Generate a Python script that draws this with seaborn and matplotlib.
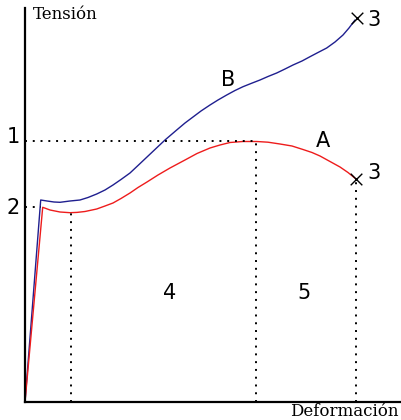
import matplotlib
matplotlib.use("Agg")
import matplotlib.pyplot as plt
import seaborn as sns
import pandas as pd

sns.set_style("white")

# Curve B (blue) (deformation, tension)
b_x = [0, 15.7, 22, 29, 35, 45, 55, 63, 71.7, 80, 88, 96, 105, 113, 122, 131, 140, 151.7,
       160, 168, 176, 185, 193, 201.7, 210, 218, 226, 235, 243, 251.7, 260, 268, 277,
       285, 293, 301.7, 310, 318, 324, 330]
b_y = [0, 202, 201, 200, 199.7, 201, 202, 204.5, 208, 212, 217, 222.5, 229, 236.5, 245, 253.5, 262, 272,
       279, 285, 291, 297, 302, 307, 311.5, 315.3, 318.5, 322, 325.5, 329, 333, 337, 341,
       345.3, 349.5, 354, 360, 367, 374, 382]
# Curve A (red)
a_x = [0, 17.7, 25, 35, 45, 52, 60, 71.7, 80, 88, 96, 105, 113, 122, 133, 145, 160, 172, 185,
       195, 205, 218, 231.7, 243, 255, 267, 278, 287, 295, 305, 315, 323, 331]
a_y = [0, 194.7, 192, 190, 189.3, 189.6, 190.5, 193, 196, 199, 203.5, 209, 214.5, 220, 227, 234, 242, 248.5, 254,
       257, 259.5, 260.5, 260.5, 259.8, 258, 256, 252.5, 249.5, 246, 240.5, 235, 229.5, 223]

guide_lines = {
    "h1": ([0, 231], [261, 261]),
    "h2": ([0, 16], [195, 195]),
    "v4": ([46, 46], [0, 189]),
    "v1": ([231, 231], [0, 261]),
    "v3": ([331, 331], [0, 223]),
}
break_x = [332, 331]
break_y = [384, 223]

fig = plt.figure(figsize=(4.02, 4.20), dpi=100)
ax = fig.add_axes([25 / 402, 18 / 420, 375 / 402, 394 / 420])

dfb = pd.DataFrame({"x": b_x, "y": b_y})
dfa = pd.DataFrame({"x": a_x, "y": a_y})
sns.lineplot(data=dfb, x="x", y="y", sort=False, color="#1f1f8f", lw=1.0, ax=ax, estimator=None)
sns.lineplot(data=dfa, x="x", y="y", sort=False, color="#ee1c1c", lw=1.0, ax=ax, estimator=None)

for xs, ys in guide_lines.values():
    ax.plot(xs, ys, color="black", lw=1.4, linestyle=(0, (1, 3)), clip_on=False)

ax.scatter(break_x, break_y, marker="x", s=70, color="black", linewidths=1.0, zorder=5, clip_on=False)

ax.set_xlim(0, 375)
ax.set_ylim(0, 394)
ax.set_xticks([])
ax.set_yticks([])
ax.set_xlabel("")
ax.set_ylabel("")
for s in ["top", "right"]:
    ax.spines[s].set_visible(False)
for s in ["left", "bottom"]:
    ax.spines[s].set_linewidth(1.6)
    ax.spines[s].set_color("black")

fs = 15
tk = dict(fontsize=fs, ha="center", va="center", color="black", clip_on=False)
ax.text(-12, 265, "1", **tk)
ax.text(-12, 194, "2", **tk)
ax.text(349, 382, "3", **tk)
ax.text(349, 229, "3", **tk)
ax.text(298, 261, "A", **tk)
ax.text(203, 322, "B", **tk)
ax.text(145, 109, "4", **tk)
ax.text(279, 109, "5", **tk)

ax.text(8, 388, "Tensión", fontsize=12, family="DejaVu Serif", color="black",
        ha="left", va="center", clip_on=False)
ax.text(374, -10, "Deformación", fontsize=12, family="DejaVu Serif", color="black",
        ha="right", va="center", clip_on=False)

fig.savefig("out.png", dpi=100)
